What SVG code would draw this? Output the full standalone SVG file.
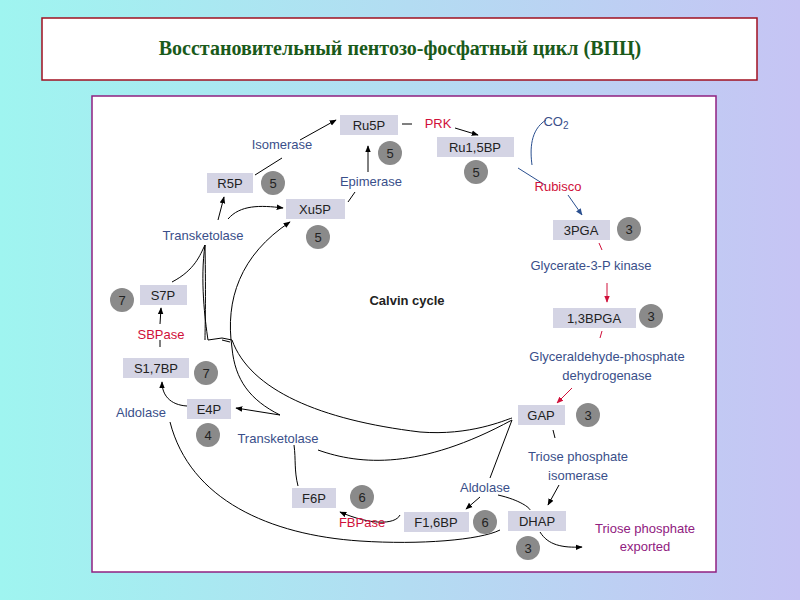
<svg xmlns="http://www.w3.org/2000/svg" width="800" height="600" viewBox="0 0 800 600">
<defs>
<linearGradient id="bg" x1="0" y1="0" x2="1" y2="0"><stop offset="0" stop-color="#9ff5f0"/><stop offset="1" stop-color="#c6c4f4"/></linearGradient>
<marker id="a" viewBox="0 0 10 10" refX="9" refY="5" markerWidth="7" markerHeight="7" orient="auto"><path d="M0,1 L10,5 L0,9 z" fill="#000"/></marker>
<marker id="ar" viewBox="0 0 10 10" refX="9" refY="5" markerWidth="7" markerHeight="7" orient="auto"><path d="M0,1 L10,5 L0,9 z" fill="#d0103a"/></marker>
<marker id="ab" viewBox="0 0 10 10" refX="9" refY="5" markerWidth="7" markerHeight="7" orient="auto"><path d="M0,1 L10,5 L0,9 z" fill="#2a4f8f"/></marker>
<style>
.b{fill:#d4d4e4}
.n{font-family:"Liberation Sans",Arial,sans-serif;font-size:13px;fill:#222;text-anchor:middle}
.c{fill:#8a8a8a}
.ct{font-family:"Liberation Sans",Arial,sans-serif;font-size:13px;fill:#222;text-anchor:middle}
.e{font-family:"Liberation Sans",Arial,sans-serif;font-size:13px;fill:#3a4f8a;text-anchor:middle}
.r{font-family:"Liberation Sans",Arial,sans-serif;font-size:13px;fill:#d0103a;text-anchor:middle}
.l{fill:none;stroke:#000;stroke-width:1}
</style>
</defs>
<rect width="800" height="600" fill="url(#bg)"/>
<rect x="42" y="18" width="715" height="62" fill="#fff" stroke="#a01020" stroke-width="1.5"/>
<text x="400" y="55" font-family="Liberation Serif,serif" font-size="20" font-weight="bold" fill="#1a5a1a" text-anchor="middle">Восстановительный пентозо-фосфатный цикл (ВПЦ)</text>
<rect x="92" y="96" width="624" height="476" fill="#fff" stroke="#902080" stroke-width="1.5"/>
<g id="connectors">
<path class="l" d="M255,175 L282,158 M300,140 L336,120" marker-end="url(#a)"/>
<path class="l" d="M402,124 L412,124 M455,128 L478,135" marker-end="url(#a)"/>
<path class="l" d="M368,172 L368,146" marker-end="url(#a)"/>
<path class="l" d="M348,202 L355,192"/>
<path d="M546,120 C530,130 530,150 532,165" fill="none" stroke="#2a4f8f"/>
<path d="M518,168 L545,185" fill="none" stroke="#2a4f8f"/>
<path d="M568,195 L582,215" fill="none" stroke="#2a4f8f" marker-end="url(#ab)"/>
<path d="M599,243 L602,250" fill="none" stroke="#d0103a"/>
<path d="M607,283 L607,302" fill="none" stroke="#d0103a" marker-end="url(#ar)"/>
<path d="M602,331 L600,338" fill="none" stroke="#d0103a"/>
<path d="M572,388 L557,403" fill="none" stroke="#d0103a" marker-end="url(#ar)"/>
<path class="l" d="M218,220 L224,197" marker-end="url(#a)"/>
<path class="l" d="M228,219 C240,205 260,205 283,208" marker-end="url(#a)"/>
<path class="l" d="M172,282 C195,270 200,255 205,245"/>
<path class="l" d="M205,245 C200,280 205,320 208,340 L222,338 L232,340 C250,390 320,420 420,432 C470,436 505,420 512,418"/>
<path class="l" d="M205,245 C206,300 205,330 205,340"/>
<path class="l" d="M280,415 C250,400 235,380 232,348 C225,300 240,255 290,222" marker-end="url(#a)"/>
<path class="l" d="M230,342 L222,340"/>
<path class="l" d="M160,324 L161,308" marker-end="url(#a)"/>
<path class="l" d="M160,340 L160,347"/>
<path class="l" d="M187,406 C170,405 162,395 162,382" marker-end="url(#a)"/>
<path class="l" d="M170,422 C190,500 270,535 360,541 C420,545 480,540 500,530"/>
<path class="l" d="M280,415 L236,408" marker-end="url(#a)"/>
<path class="l" d="M298,486 C294,470 296,460 294,445"/>
<path class="l" d="M318,450 C360,465 420,470 512,420"/>
<path class="l" d="M512,420 L490,478"/>
<path class="l" d="M480,497 L466,509" marker-end="url(#a)"/>
<path class="l" d="M498,495 C520,500 530,508 530,510"/>
<path class="l" d="M553,430 L555,438 M559,485 L548,505" marker-end="url(#a)"/>
<path class="l" d="M400,515 C395,525 370,525 340,512" marker-end="url(#a)"/>
<path class="l" d="M540,532 C548,545 562,548 582,547" marker-end="url(#a)"/>
</g>
<g id="Ru5P"><rect class="b" x="340" y="115" width="58" height="20"/><text class="n" x="369" y="130">Ru5P</text></g>
<g id="R5P"><rect class="b" x="207" y="173" width="46" height="20"/><text class="n" x="230" y="188">R5P</text></g>
<g id="Xu5P"><rect class="b" x="286" y="199" width="59" height="20"/><text class="n" x="315" y="214">Xu5P</text></g>
<g id="Ru15BP"><rect class="b" x="437" y="137" width="77" height="20"/><text class="n" x="475" y="152">Ru1,5BP</text></g>
<g id="PGA3"><rect class="b" x="553" y="220" width="57" height="20"/><text class="n" x="581" y="235">3PGA</text></g>
<g id="BPGA"><rect class="b" x="553" y="308" width="83" height="20"/><text class="n" x="594" y="323">1,3BPGA</text></g>
<g id="GAP"><rect class="b" x="518" y="405" width="47" height="20"/><text class="n" x="541" y="420">GAP</text></g>
<g id="DHAP"><rect class="b" x="508" y="511" width="58" height="20"/><text class="n" x="537" y="526">DHAP</text></g>
<g id="F16BP"><rect class="b" x="404" y="512" width="65" height="20"/><text class="n" x="436" y="527">F1,6BP</text></g>
<g id="F6P"><rect class="b" x="292" y="488" width="44" height="20"/><text class="n" x="314" y="503">F6P</text></g>
<g id="E4P"><rect class="b" x="187" y="399" width="44" height="20"/><text class="n" x="209" y="414">E4P</text></g>
<g id="S17BP"><rect class="b" x="123" y="358" width="66" height="20"/><text class="n" x="156" y="373">S1,7BP</text></g>
<g id="S7P"><rect class="b" x="140" y="285" width="47" height="20"/><text class="n" x="163" y="300">S7P</text></g>
<g id="counts">
<circle class="c" cx="390" cy="153" r="12"/><text class="ct" x="390" y="158">5</text>
<circle class="c" cx="273" cy="183" r="12"/><text class="ct" x="273" y="188">5</text>
<circle class="c" cx="318" cy="237" r="12"/><text class="ct" x="318" y="242">5</text>
<circle class="c" cx="476" cy="172" r="12"/><text class="ct" x="476" y="177">5</text>
<circle class="c" cx="629" cy="229" r="12"/><text class="ct" x="629" y="234">3</text>
<circle class="c" cx="651" cy="316" r="12"/><text class="ct" x="651" y="321">3</text>
<circle class="c" cx="588" cy="415" r="12"/><text class="ct" x="588" y="420">3</text>
<circle class="c" cx="528" cy="548" r="12"/><text class="ct" x="528" y="553">3</text>
<circle class="c" cx="362" cy="497" r="12"/><text class="ct" x="362" y="502">6</text>
<circle class="c" cx="485" cy="522" r="12"/><text class="ct" x="485" y="527">6</text>
<circle class="c" cx="208" cy="435" r="12"/><text class="ct" x="208" y="440">4</text>
<circle class="c" cx="206" cy="373" r="12"/><text class="ct" x="206" y="378">7</text>
<circle class="c" cx="122" cy="300" r="12"/><text class="ct" x="122" y="305">7</text>
</g>
<g id="labels">
<text class="e" x="282" y="149">Isomerase</text>
<text class="r" x="438" y="128">PRK</text>
<text class="e" x="556" y="126">CO<tspan font-size="10" dy="3">2</tspan></text>
<text class="e" x="371" y="186">Epimerase</text>
<text class="r" x="558" y="191">Rubisco</text>
<text class="e" x="203" y="240">Transketolase</text>
<text class="e" x="591" y="270">Glycerate-3-P kinase</text>
<text x="407" y="305" font-family="Liberation Sans,Arial,sans-serif" font-size="13" font-weight="bold" fill="#222" text-anchor="middle">Calvin cycle</text>
<text class="r" x="161" y="339">SBPase</text>
<text class="e" x="607" y="361">Glyceraldehyde-phosphate</text>
<text class="e" x="607" y="380">dehydrogenase</text>
<text class="e" x="141" y="417">Aldolase</text>
<text class="e" x="278" y="443">Transketolase</text>
<text class="e" x="578" y="461">Triose phosphate</text>
<text class="e" x="578" y="480">isomerase</text>
<text class="e" x="485" y="492">Aldolase</text>
<text class="r" x="362" y="527">FBPase</text>
<text x="645" y="533" font-family="Liberation Sans,Arial,sans-serif" font-size="13" fill="#902080" text-anchor="middle">Triose phosphate</text>
<text x="645" y="551" font-family="Liberation Sans,Arial,sans-serif" font-size="13" fill="#902080" text-anchor="middle">exported</text>
</g>
</svg>
